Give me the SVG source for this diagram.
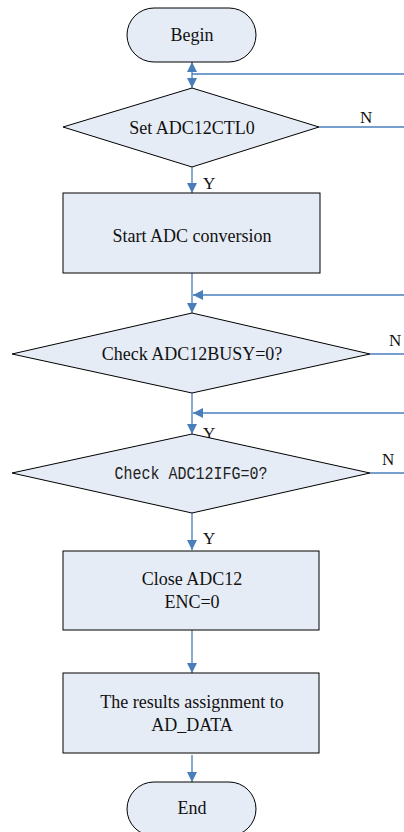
<svg xmlns="http://www.w3.org/2000/svg" width="404" height="832" viewBox="0 0 404 832">
  <style>
    .shape { fill: #e6ecf6; stroke: #000; stroke-width: 1; }
    .lbl { font-family: "Liberation Serif", "Times New Roman", serif; font-size: 18px; fill: #111; text-anchor: middle; }
    .mono { font-family: "Liberation Mono", "Courier New", monospace; font-size: 19px; fill: #222; text-anchor: middle; }
    .yn { font-family: "Liberation Serif", "Times New Roman", serif; font-size: 17px; fill: #111; }
    .conn { stroke: #4a7ebb; stroke-width: 1.3; fill: none; }
  </style>
  <defs>
    <marker id="arrow" viewBox="0 0 10 10" refX="10" refY="5" markerWidth="10" markerHeight="10" markerUnits="userSpaceOnUse" orient="auto-start-reverse">
      <path d="M0,0 L10,5 L0,10 Z" fill="#4a7ebb"/>
    </marker>
  </defs>

  <rect width="404" height="832" fill="#fff"/>

  <!-- connectors -->
  <g id="connectors">
    <line class="conn" x1="192" y1="62" x2="192" y2="88" marker-start="url(#arrow)" marker-end="url(#arrow)"/>
    <line class="conn" x1="192" y1="74" x2="404" y2="74"/>
    <line class="conn" x1="319" y1="127" x2="404" y2="127"/>
    <line class="conn" x1="192" y1="167" x2="192" y2="193" marker-end="url(#arrow)"/>
    <line class="conn" x1="192" y1="273" x2="192" y2="313" marker-end="url(#arrow)"/>
    <line class="conn" x1="404" y1="295" x2="193" y2="295" marker-end="url(#arrow)"/>
    <line class="conn" x1="370" y1="354" x2="404" y2="354"/>
    <line class="conn" x1="192" y1="393" x2="192" y2="434" marker-end="url(#arrow)"/>
    <line class="conn" x1="404" y1="413" x2="193" y2="413" marker-end="url(#arrow)"/>
    <line class="conn" x1="370" y1="473" x2="404" y2="473"/>
    <line class="conn" x1="192" y1="513" x2="192" y2="550" marker-end="url(#arrow)"/>
    <line class="conn" x1="192" y1="630" x2="192" y2="673" marker-end="url(#arrow)"/>
    <line class="conn" x1="192" y1="755" x2="192" y2="782" marker-end="url(#arrow)"/>
    <text class="yn" x="360" y="123">N</text>
    <text class="yn" x="203" y="189">Y</text>
    <text class="yn" x="389" y="346">N</text>
    <text class="yn" x="203" y="439">Y</text>
    <text class="yn" x="382" y="465">N</text>
    <text class="yn" x="203" y="544">Y</text>
  </g>

  <g id="begin">
    <rect class="shape" x="127" y="8" width="129" height="54" rx="27" ry="27"/>
    <text class="lbl" x="192" y="41">Begin</text>
  </g>

  <g id="set-ctl0">
    <polygon class="shape" points="192,88 319,127 192,167 63,127"/>
    <text class="lbl" x="192" y="134">Set ADC12CTL0</text>
  </g>

  <g id="start-conv">
    <rect class="shape" x="63" y="193" width="257" height="80"/>
    <text class="lbl" x="192" y="242">Start ADC conversion</text>
  </g>

  <g id="check-busy">
    <polygon class="shape" points="192,313 370,354 192,393 12,354"/>
    <text class="lbl" x="192" y="360">Check ADC12BUSY=0?</text>
  </g>

  <g id="check-ifg">
    <polygon class="shape" points="192,434 370,473 192,513 12,473"/>
    <text class="mono" x="191" y="479" textLength="153" lengthAdjust="spacingAndGlyphs">Check ADC12IFG=0?</text>
  </g>

  <g id="close-adc">
    <rect class="shape" x="63" y="551" width="256" height="79"/>
    <text class="lbl" x="192" y="585">Close ADC12</text>
    <text class="lbl" x="192" y="608">ENC=0</text>
  </g>

  <g id="assign">
    <rect class="shape" x="63" y="673" width="256" height="80"/>
    <text class="lbl" x="192" y="708">The results assignment to</text>
    <text class="lbl" x="192" y="731">AD_DATA</text>
  </g>

  <g id="end">
    <rect class="shape" x="127" y="782" width="129" height="54" rx="27" ry="27"/>
    <text class="lbl" x="192" y="814">End</text>
  </g>
</svg>
